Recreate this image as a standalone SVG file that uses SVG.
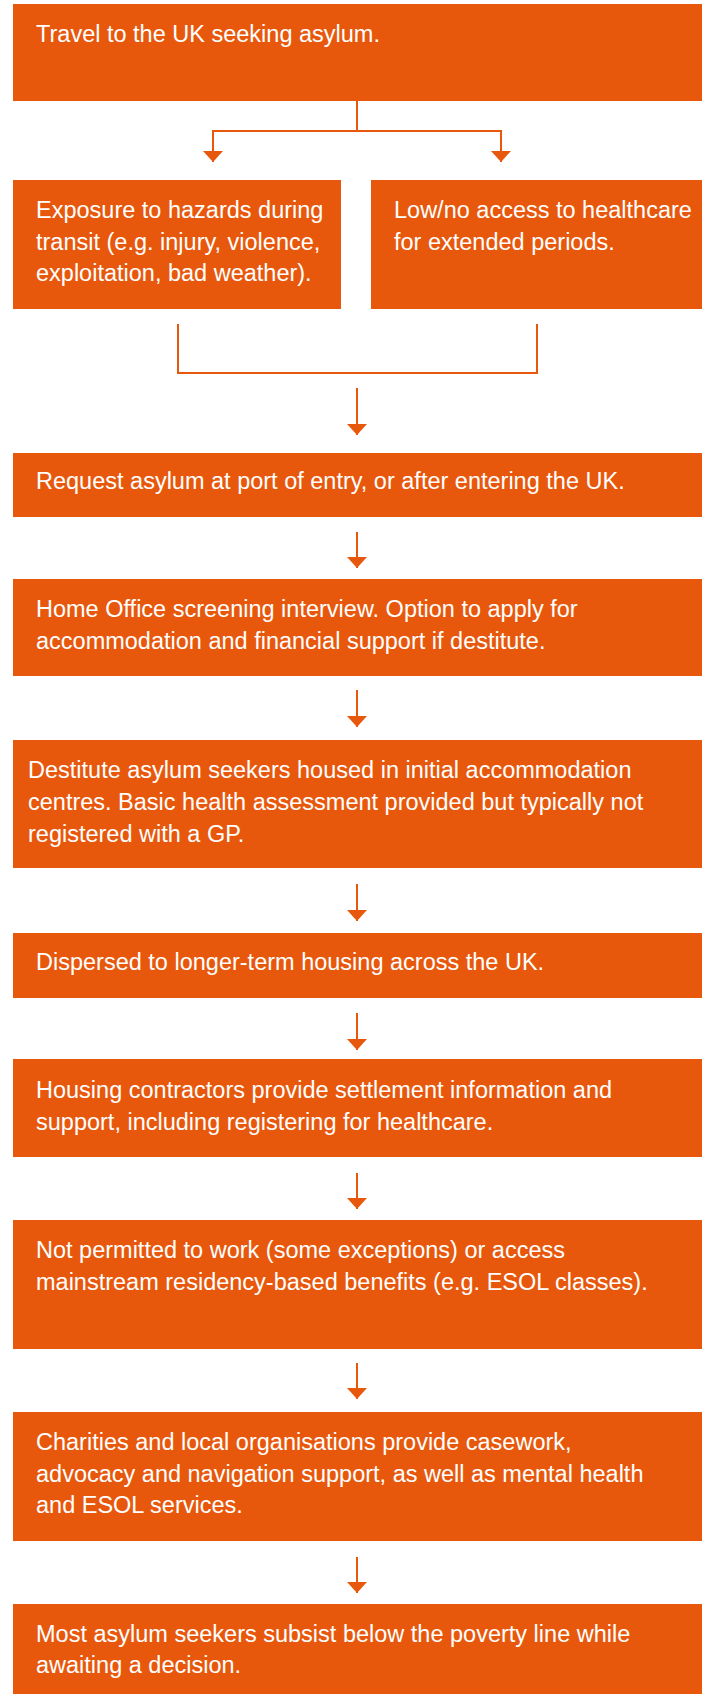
<svg xmlns="http://www.w3.org/2000/svg" width="702" height="1694" viewBox="0 0 702 1694">
<style>
.box{fill:#E8580C}
.t{font-family:"Liberation Sans",Arial,sans-serif;font-size:23.5px;fill:#ffffff}
.c{fill:none;stroke:#E8580C;stroke-width:2}
</style>
<defs>
<marker id="ah" viewBox="0 0 11 20" refX="11" refY="10" markerWidth="11" markerHeight="20" markerUnits="userSpaceOnUse" orient="auto">
<path d="M0,0 L11,10 L0,20 Z" fill="#E8580C"/>
</marker>
</defs>
<rect width="702" height="1694" fill="#ffffff"/>
<g id="connectors">
<path class="c" d="M357,101 V131 H213 V162" marker-end="url(#ah)"/>
<path class="c" d="M357,131 H501 V162" marker-end="url(#ah)"/>
<path class="c" d="M178,324 V373 H537 V324"/>
<path class="c" d="M357,388 V435" marker-end="url(#ah)"/>
<path class="c" d="M357,532 V568" marker-end="url(#ah)"/>
<path class="c" d="M357,690 V727" marker-end="url(#ah)"/>
<path class="c" d="M357,884 V921" marker-end="url(#ah)"/>
<path class="c" d="M357,1013 V1050" marker-end="url(#ah)"/>
<path class="c" d="M357,1173 V1209" marker-end="url(#ah)"/>
<path class="c" d="M357,1363 V1399" marker-end="url(#ah)"/>
<path class="c" d="M357,1557 V1593" marker-end="url(#ah)"/>
</g>
<g id="n1"><rect class="box" x="13" y="4" width="689" height="97"/>
<text class="t" x="36" y="41.5">Travel to the UK seeking asylum.</text></g>
<g id="n2"><rect class="box" x="13" y="180" width="328" height="129"/>
<text class="t" x="36" y="218">Exposure to hazards during</text>
<text class="t" x="36" y="249.5">transit (e.g. injury, violence,</text>
<text class="t" x="36" y="281">exploitation, bad weather).</text></g>
<g id="n3"><rect class="box" x="371" y="180" width="331" height="129"/>
<text class="t" x="394" y="218">Low/no access to healthcare</text>
<text class="t" x="394" y="249.5">for extended periods.</text></g>
<g id="n4"><rect class="box" x="13" y="453" width="689" height="64"/>
<text class="t" x="36" y="489">Request asylum at port of entry, or after entering the UK.</text></g>
<g id="n5"><rect class="box" x="13" y="579" width="689" height="97"/>
<text class="t" x="36" y="617">Home Office screening interview. Option to apply for</text>
<text class="t" x="36" y="649">accommodation and financial support if destitute.</text></g>
<g id="n6"><rect class="box" x="13" y="740" width="689" height="128"/>
<text class="t" x="28" y="778">Destitute asylum seekers housed in initial accommodation</text>
<text class="t" x="28" y="810">centres. Basic health assessment provided but typically not</text>
<text class="t" x="28" y="842">registered with a GP.</text></g>
<g id="n7"><rect class="box" x="13" y="933" width="689" height="65"/>
<text class="t" x="36" y="970">Dispersed to longer-term housing across the UK.</text></g>
<g id="n8"><rect class="box" x="13" y="1059" width="689" height="98"/>
<text class="t" x="36" y="1098">Housing contractors provide settlement information and</text>
<text class="t" x="36" y="1130">support, including registering for healthcare.</text></g>
<g id="n9"><rect class="box" x="13" y="1220" width="689" height="129"/>
<text class="t" x="36" y="1258">Not permitted to work (some exceptions) or access</text>
<text class="t" x="36" y="1290">mainstream residency-based benefits (e.g. ESOL classes).</text></g>
<g id="n10"><rect class="box" x="13" y="1412" width="689" height="129"/>
<text class="t" x="36" y="1450">Charities and local organisations provide casework,</text>
<text class="t" x="36" y="1482">advocacy and navigation support, as well as mental health</text>
<text class="t" x="36" y="1513">and ESOL services.</text></g>
<g id="n11"><rect class="box" x="13" y="1604" width="689" height="90"/>
<text class="t" x="36" y="1642">Most asylum seekers subsist below the poverty line while</text>
<text class="t" x="36" y="1673">awaiting a decision.</text></g>
</svg>
